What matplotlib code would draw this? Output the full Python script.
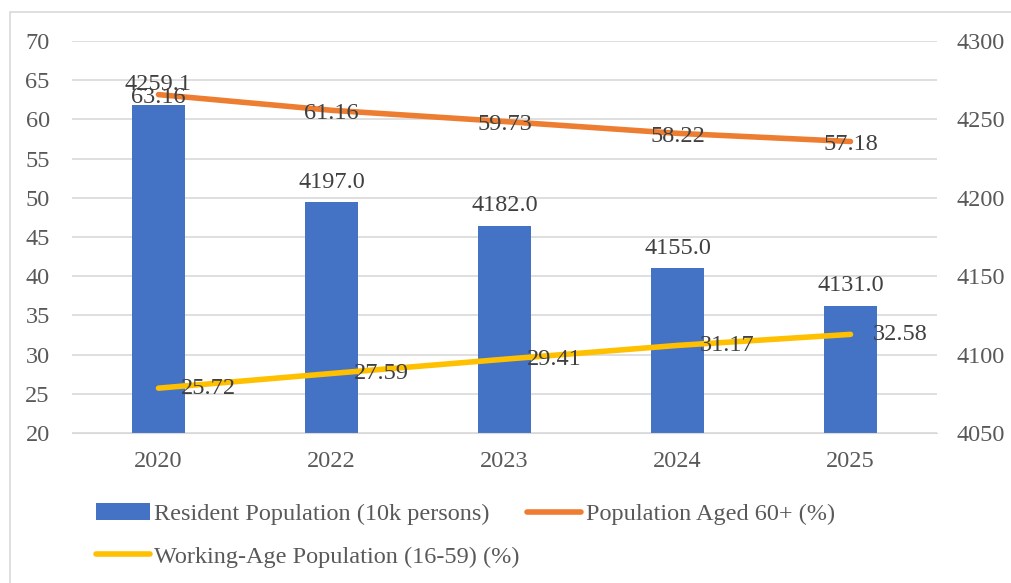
import matplotlib.pyplot as plt
from matplotlib.patches import Rectangle
from matplotlib.ticker import MultipleLocator
import numpy as np

years = ['2020', '2022', '2023', '2024', '2025']
resident = [4259.1, 4197.0, 4182.0, 4155.0, 4131.0]
aged_60 = [63.16, 61.16, 59.73, 58.22, 57.18]
working_age = [25.72, 27.59, 29.41, 31.17, 32.58]

plt.rcParams['font.family'] = ['Liberation Serif', 'DejaVu Serif']

BLUE = '#4472C4'
ORANGE = '#ED7D31'
YELLOW = '#FFC000'
GRID = '#D9D9D9'
TXT = '#595959'
LBL = '#404040'
FS = 17.5

def main():
    fig, ax = plt.subplots(figsize=(10.11, 5.83), dpi=100)
    fig.subplots_adjust(left=0.0712, right=0.9268, top=0.9297, bottom=0.2573)
    x = np.arange(len(years))

    # bars on the right-hand axis, drawn underneath
    bars = ax.bar(x, resident, width=0.31, color=BLUE, zorder=2,
                  label='Resident Population (10k persons)')
    ax.set_ylim(4050, 4300)
    ax.yaxis.set_major_locator(MultipleLocator(50))
    ax.yaxis.set_minor_locator(MultipleLocator(25))
    ax.grid(axis='y', which='both', color=GRID, lw=1.2, zorder=0)
    ax.set_axisbelow(True)
    ax.bar_label(bars, fmt='%.1f', padding=7, fontsize=FS, color=LBL)
    ax.set_xticks(x)
    ax.set_xticklabels(years)
    ax.set_xlim(-0.5, len(years) - 0.5)

    # lines on the left-hand axis
    axl = ax.twinx()
    ax.yaxis.tick_right()
    axl.yaxis.tick_left()
    ax.tick_params(axis='y', which='both', length=0, labelsize=FS,
                   labelcolor=TXT, pad=14)
    ax.tick_params(axis='x', length=0, labelsize=FS, labelcolor=TXT, pad=13)
    axl.set_ylim(20, 70)
    axl.yaxis.set_major_locator(MultipleLocator(5))
    axl.tick_params(axis='y', length=0, labelsize=FS, labelcolor=TXT, pad=16)
    axl.plot(x, aged_60, color=ORANGE, lw=4, solid_capstyle='round',
             label='Population Aged 60+ (%)')
    axl.plot(x, working_age, color=YELLOW, lw=4, solid_capstyle='round',
             label='Working-Age Population (16-59) (%)')
    for i, v in enumerate(aged_60):
        axl.annotate(f'{v:.2f}', (i, v), xytext=(0, -2),
                     textcoords='offset points', ha='center', va='center',
                     fontsize=FS, color=LBL)
    for i, v in enumerate(working_age):
        axl.annotate(f'{v:.2f}', (i, v), xytext=(16, 0),
                     textcoords='offset points', ha='left', va='center',
                     fontsize=FS, color=LBL)

    for a in (ax, axl):
        for s in a.spines.values():
            s.set_visible(False)
    ax.spines['bottom'].set_visible(True)
    ax.spines['bottom'].set_color(GRID)

    h1, l1 = ax.get_legend_handles_labels()
    h2, l2 = axl.get_legend_handles_labels()
    handles = [h1[0], h2[1], h2[0]]
    labels = [l1[0], l2[1], l2[0]]
    fig.legend(handles, labels, ncol=2, loc='upper left',
               bbox_to_anchor=(0.095, 0.137), frameon=False,
               fontsize=FS, labelcolor=TXT, handlelength=2.2,
               handletextpad=0.2, columnspacing=0.3, labelspacing=0.85,
               borderpad=0, borderaxespad=0)

    fig.patches.append(Rectangle((10 / 1011, -0.02), 1.1, 1 - 12 / 583 + 0.02,
                                 transform=fig.transFigure, fill=False,
                                 ec=GRID, lw=1.2))

    plt.savefig('out.png', dpi=100)

if __name__ == '__main__':
    main()
